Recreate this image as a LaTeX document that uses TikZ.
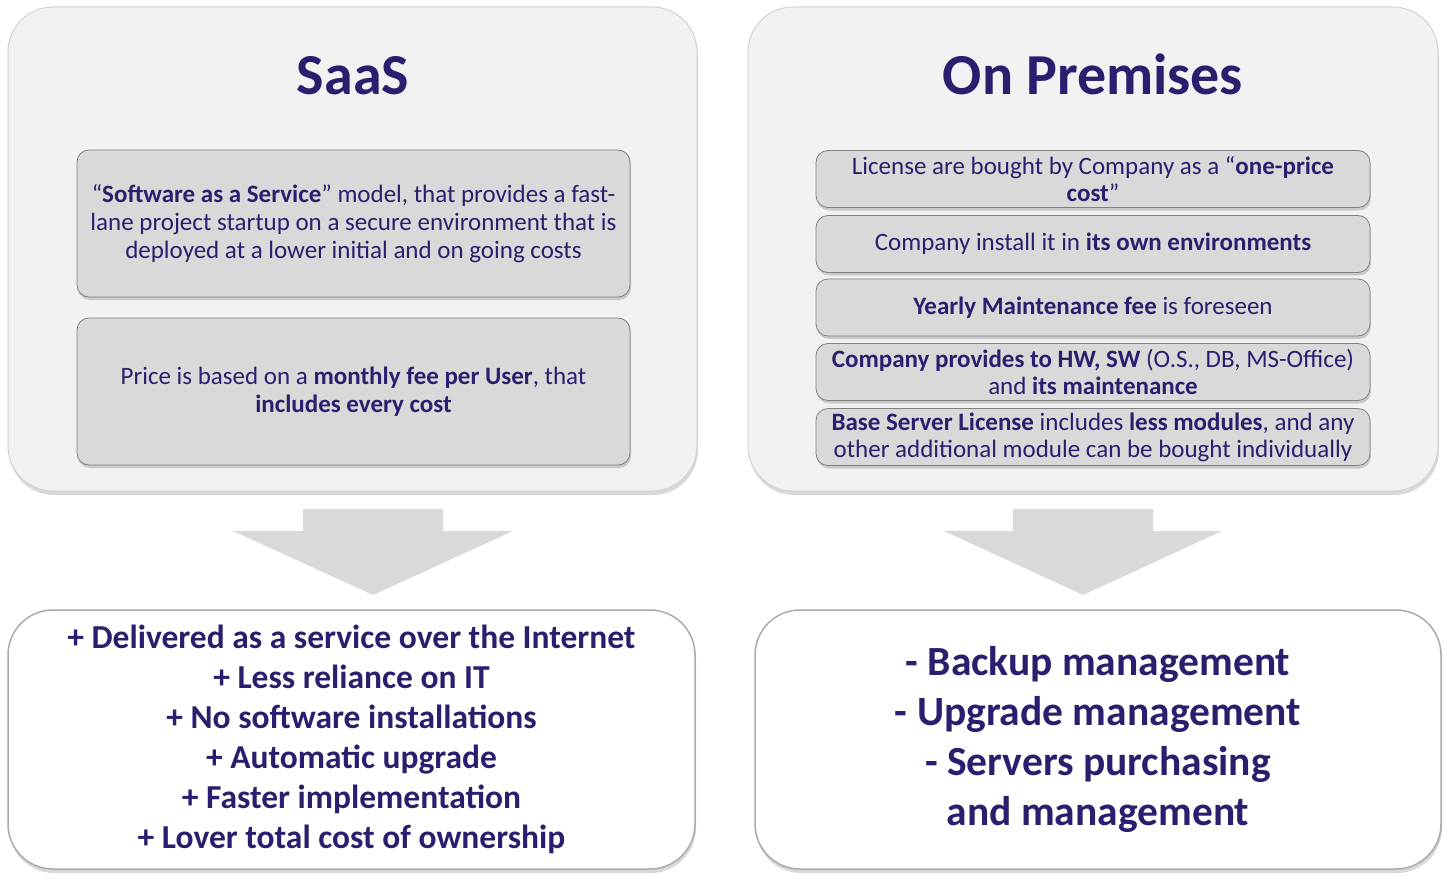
\documentclass[tikz,border=0pt]{standalone}
\usepackage{fontspec}
\setmainfont{Carlito}
\usetikzlibrary{shadows}
\definecolor{txt}{RGB}{43,30,110}
\definecolor{outerfill}{RGB}{242,242,242}
\definecolor{outerline}{RGB}{210,210,210}
\definecolor{innerfill}{RGB}{217,217,217}
\definecolor{innerline}{RGB}{128,128,128}
\definecolor{botline}{RGB}{170,170,170}
\definecolor{arrowfill}{RGB}{217,217,217}
\begin{document}
\begin{tikzpicture}[x=1pt,y=-1pt,
  outerbox/.style={draw=outerline, line width=1pt, fill=outerfill, rounded corners=45pt,
    drop shadow={shadow xshift=1pt, shadow yshift=-4pt, opacity=0.3}, inner sep=0pt},
  innerbox/.style={draw=innerline, line width=0.8pt, fill=innerfill, rounded corners=12pt,
    drop shadow={shadow xshift=1pt, shadow yshift=-3pt, opacity=0.35},
    text=txt, align=center, inner sep=0pt},
  botbox/.style={draw=botline, line width=1.5pt, fill=white, rounded corners=45pt,
    drop shadow={shadow xshift=1pt, shadow yshift=-4pt, opacity=0.3},
    text=txt, align=center, inner sep=0pt},
  title/.style={text=txt, font=\fontsize{58}{66}\selectfont\bfseries, anchor=base},
  blockarrow/.style={fill=arrowfill, draw=none}
]
\useasboundingbox (0,0) rectangle (1449,880);

% outer boxes
\node[outerbox, minimum width=689pt, minimum height=484pt] (oL) at (352.5,249) {};
\node[outerbox, minimum width=690pt, minimum height=484pt] (oR) at (1093,249) {};

% titles
\node[title] (tL) at (353,95) {SaaS};
\node[title] (tR) at (1093,95) {On Premises};

% left inner boxes
\node[innerbox, minimum width=553pt, minimum height=147pt,
  font=\fontsize{25}{28}\selectfont] (l1) at (353.5,223.5)
  {“\textbf{Software as a Service}” model, that provides a fast-\\
   lane project startup on a secure environment that is\\
   deployed at a lower initial and on going costs};
\node[innerbox, minimum width=553pt, minimum height=147pt,
  font=\fontsize{25}{28}\selectfont] (l2) at (353.5,391.5)
  {Price is based on a \textbf{monthly fee per User}, that\\
   \textbf{includes every cost}};

% right inner boxes
\tikzset{rbox/.style={innerbox, minimum width=554pt, minimum height=57pt,
  font=\fontsize{25}{27}\selectfont}}
\node[rbox] (r1) at (1093,179) {License are bought by Company as a “\textbf{one-price}\\ \textbf{cost}”};
\node[rbox] (r2) at (1093,244) {Company install it in \textbf{its own environments}};
\node[rbox] (r3) at (1093,307.5) {\textbf{Yearly Maintenance fee} is foreseen};
\node[rbox] (r4) at (1093,372) {\textbf{Company provides to HW, SW} (O.S., DB, MS-Office)\\ and \textbf{its maintenance}};
\node[rbox] (r5) at (1093,437) {\textbf{Base Server License} includes \textbf{less modules}, and any\\ other additional module can be bought individually};

% block arrows
\fill[blockarrow] (303,509) -- (443,509) -- (443,531) -- (513,531) -- (373,595)
  -- (233,531) -- (303,531) -- cycle;
\fill[blockarrow] (1013,509) -- (1153,509) -- (1153,531) -- (1222,531) -- (1083,595)
  -- (944,531) -- (1013,531) -- cycle;

% bottom boxes
\node[botbox, minimum width=687pt, minimum height=259pt,
  font=\fontsize{33.5}{40}\selectfont\bfseries] (bL) at (351.5,739.5)
  {+ Delivered as a service over the Internet\\
   + Less reliance on IT\\
   + No software installations\\
   + Automatic upgrade\\
   + Faster implementation\\
   + Lover total cost of ownership};
\node[botbox, minimum width=686pt, minimum height=259pt,
  font=\fontsize{41.5}{50}\selectfont\bfseries] (bR) at (1098,739.5)
  {- Backup management\\
   - Upgrade management\\
   - Servers purchasing\\
   and management};
\end{tikzpicture}
\end{document}
